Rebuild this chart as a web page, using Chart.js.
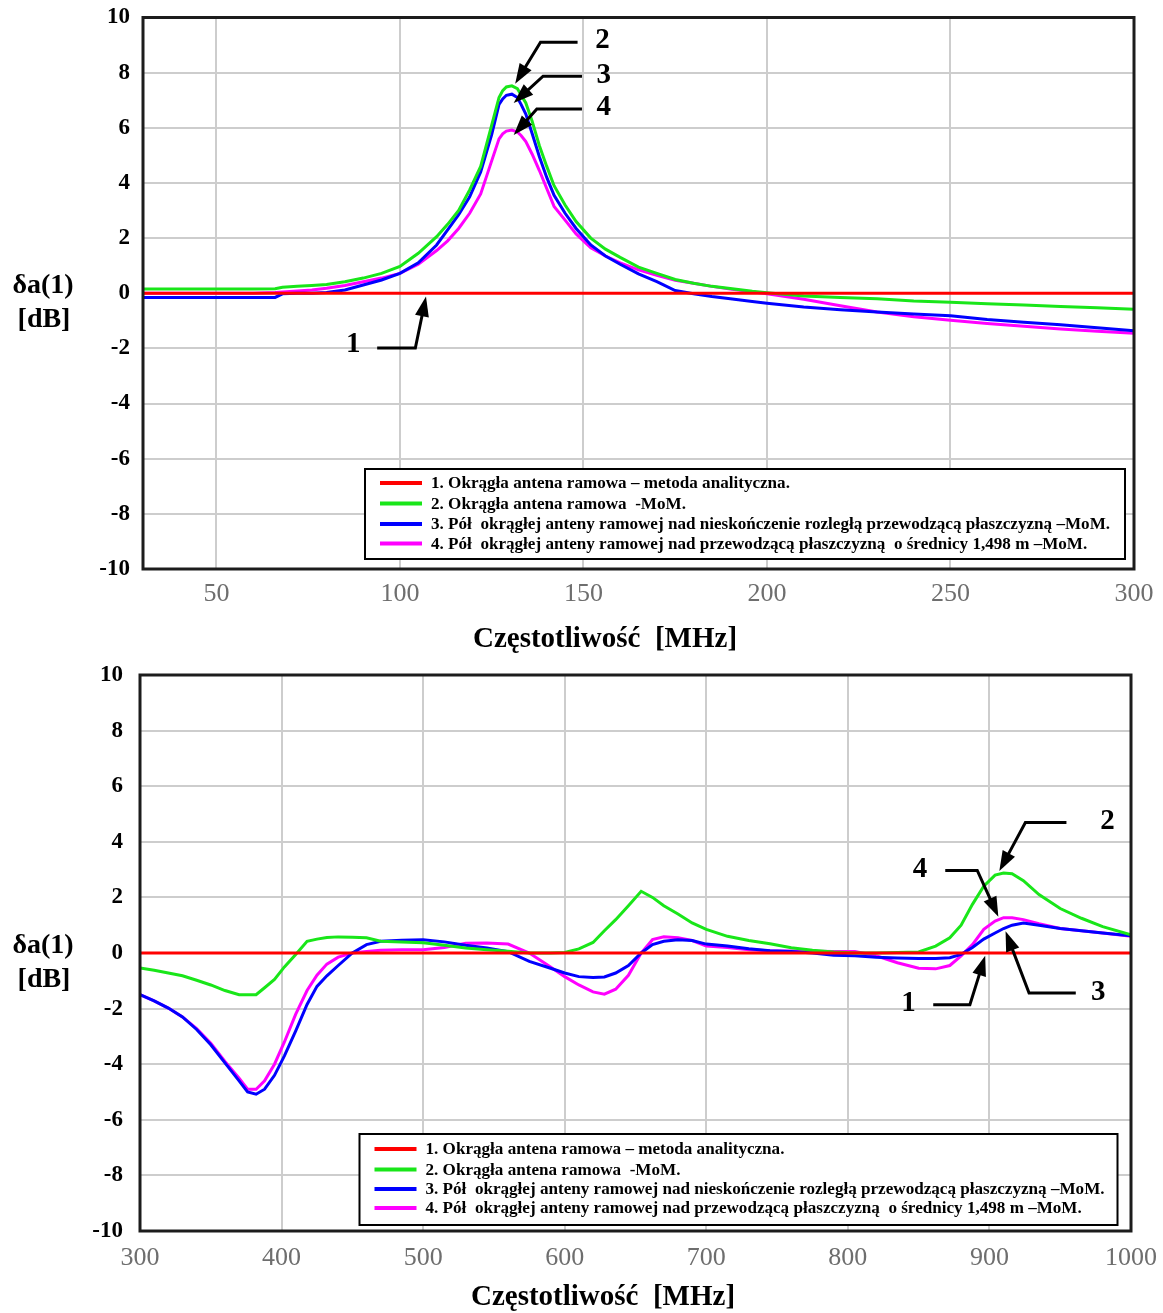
<!DOCTYPE html>
<html>
<head>
<meta charset="utf-8">
<script src="https://cdn.jsdelivr.net/npm/chart.js@4.4.1/dist/chart.umd.min.js"></script>
<style>
  html, body { margin: 0; padding: 0; background: #fff; }
  #wrap { position: relative; width: 1163px; height: 1313px; }
  canvas { position: absolute; left: 0; }
</style>
</head>
<body>
<div id="wrap">
  <canvas id="chartTop" width="1163" height="660" style="top:0"></canvas>
  <canvas id="chartBottom" width="1163" height="653" style="top:660px"></canvas>
</div>
<script>
// ---- data: górny wykres (30-300 MHz) ----
const freqTop = [30, 60, 66, 68, 72, 76, 80, 85, 90, 95, 100, 105, 110, 113, 116, 119, 122, 125, 127, 128, 129,
  130.5, 132, 133, 134.3, 136, 138, 140, 142, 145, 148, 152, 156, 160, 165, 170, 175, 180, 185, 190, 196, 200,
  210, 220, 230, 240, 250, 260, 270, 280, 290, 300];
const analyticFreqTop = [30, 300];
const analyticTop = [0, 0];
const momTop = [0.15, 0.15, 0.16, 0.22, 0.25, 0.28, 0.32, 0.42, 0.55, 0.72, 0.97, 1.45, 2.05, 2.5, 3.0, 3.75, 4.6, 6.1, 7.1, 7.35, 7.48,
  7.52, 7.42, 7.2, 6.9, 6.25, 5.35, 4.6, 3.9, 3.2, 2.6, 2.0, 1.6, 1.3, 0.95, 0.72, 0.5, 0.36, 0.25, 0.17, 0.07, 0.02,
  -0.1, -0.15, -0.2, -0.28, -0.33, -0.38, -0.43, -0.48, -0.53, -0.58];
const halfInfTop = [-0.15, -0.15, -0.15, -0.02, 0.0, 0.0, 0.03, 0.12, 0.3, 0.48, 0.72, 1.1, 1.75, 2.3, 2.85, 3.5, 4.4, 5.75, 6.85, 7.05, 7.18,
  7.22, 7.1, 6.85, 6.5, 5.8, 4.95, 4.2, 3.55, 2.9, 2.35, 1.75, 1.35, 1.05, 0.7, 0.42, 0.1, -0.02, -0.12, -0.2, -0.3, -0.36,
  -0.5, -0.6, -0.68, -0.75, -0.82, -0.95, -1.05, -1.14, -1.25, -1.36];
const halfDiscTop = [0, 0, 0.03, 0.05, 0.08, 0.12, 0.18, 0.28, 0.42, 0.55, 0.72, 1.05, 1.55, 1.9, 2.35, 2.9, 3.6, 4.8, 5.6, 5.78, 5.88,
  5.92, 5.85, 5.72, 5.5, 5.05, 4.45, 3.8, 3.15, 2.65, 2.15, 1.65, 1.35, 1.1, 0.85, 0.65, 0.47, 0.36, 0.25, 0.15, 0.05, -0.02,
  -0.22, -0.45, -0.68, -0.85, -0.98, -1.1, -1.2, -1.3, -1.38, -1.45];
const xTicksTop = [50, 100, 150, 200, 250, 300];

// ---- data: dolny wykres (300-1000 MHz) ----
const freqBottom = [300, 310, 320, 330, 340, 350, 360, 370, 376, 382, 388, 395, 402, 410, 418, 425, 432, 440, 450, 460,
  470, 485, 500, 515, 530, 545, 560, 575, 590, 600, 610, 620, 628, 636, 645, 654, 662, 670, 680, 690,
  700, 715, 730, 745, 760, 775, 790, 805, 820, 835, 850, 862, 872, 880, 888, 896, 904, 910, 916, 924,
  935, 950, 965, 980, 1000];
const analyticFreqBottom = [300, 1000];
const analyticBottom = [0, 0];
const momBottom = [-0.54, -0.62, -0.72, -0.82, -0.98, -1.15, -1.35, -1.5, -1.5, -1.5, -1.25, -0.95, -0.5, -0.05, 0.42, 0.5, 0.56, 0.58, 0.57, 0.55,
  0.42, 0.4, 0.37, 0.28, 0.18, 0.12, 0.06, 0.0, 0.0, 0.02, 0.15, 0.38, 0.8, 1.2, 1.7, 2.22, 2.0, 1.7, 1.4, 1.08,
  0.85, 0.6, 0.45, 0.33, 0.19, 0.1, 0.04, 0.0, 0.0, 0.02, 0.04, 0.25, 0.55, 1.0, 1.75, 2.4, 2.8, 2.88, 2.85, 2.6,
  2.1, 1.6, 1.25, 0.95, 0.65];
const halfInfBottom = [-1.5, -1.72, -1.98, -2.3, -2.75, -3.3, -3.95, -4.6, -5.0, -5.08, -4.9, -4.4, -3.7, -2.8, -1.85, -1.2, -0.82, -0.45, 0.0, 0.3,
  0.42, 0.46, 0.48, 0.4, 0.28, 0.18, 0.05, -0.3, -0.55, -0.72, -0.85, -0.88, -0.86, -0.72, -0.45, 0.0, 0.3, 0.42, 0.48, 0.45,
  0.32, 0.25, 0.15, 0.08, 0.05, 0.0, -0.08, -0.1, -0.15, -0.18, -0.2, -0.2, -0.17, -0.05, 0.2, 0.5, 0.72, 0.88, 1.0, 1.08,
  1.0, 0.88, 0.8, 0.72, 0.62];
const halfDiscBottom = [-1.5, -1.72, -1.98, -2.3, -2.72, -3.25, -3.9, -4.5, -4.9, -4.9, -4.6, -4.0, -3.2, -2.2, -1.35, -0.8, -0.4, -0.15, 0.0, 0.05,
  0.1, 0.12, 0.12, 0.2, 0.35, 0.36, 0.32, 0.0, -0.5, -0.85, -1.15, -1.4, -1.48, -1.3, -0.8, 0.0, 0.48, 0.58, 0.55, 0.45,
  0.25, 0.2, 0.12, 0.08, 0.07, 0.06, 0.05, 0.05, -0.1, -0.35, -0.55, -0.57, -0.45, -0.1, 0.3, 0.85, 1.15, 1.27, 1.27, 1.2,
  1.05, 0.88, 0.8, 0.72, 0.6];
const xTicksBottom = [300, 400, 500, 600, 700, 800, 900, 1000];

const legendLabels = [
  '1. Okrągła antena ramowa – metoda analityczna.',
  '2. Okrągła antena ramowa  -MoM.',
  '3. Pół  okrągłej anteny ramowej nad nieskończenie rozległą przewodzącą płaszczyzną –MoM.',
  '4. Pół  okrągłej anteny ramowej nad przewodzącą płaszczyzną  o średnicy 1,498 m –MoM.'
];
const yTitle = ['δa(1)', '[dB]'];
const xTitle = 'Częstotliwość  [MHz]';

// ---- rysowanie ----
const SERIF = '"Liberation Serif", "Times New Roman", serif';
const kolory = ['#ff0000', '#19e619', '#0000ff', '#ff00ff'];

const toPoints = (xs, ys) => xs.map((x, i) => ({ x, y: ys[i] }));

function grotStrzalki(ctx, x0, y0, x1, y1) {
  const a = Math.atan2(y1 - y0, x1 - x0), len = 20, half = 7;
  const bx = x1 - len * Math.cos(a), by = y1 - len * Math.sin(a);
  ctx.beginPath();
  ctx.moveTo(x1, y1);
  ctx.lineTo(bx + half * Math.sin(a), by - half * Math.cos(a));
  ctx.lineTo(bx - half * Math.sin(a), by + half * Math.cos(a));
  ctx.closePath();
  ctx.fill();
}

const ramkaPlugin = {
  id: 'ramka',
  afterDraw(chart, args, opts) {
    const ctx = chart.ctx, ca = chart.chartArea;
    const xs = chart.scales.x, ys = chart.scales.y;
    ctx.save();

    // legenda w ramce
    const lg = opts.legend;
    const bx = ca.right - lg.right - lg.width, by = ca.bottom - lg.bottom - lg.height;
    ctx.fillStyle = '#fff';
    ctx.fillRect(bx, by, lg.width, lg.height);
    ctx.strokeStyle = '#000';
    ctx.lineWidth = 2;
    ctx.strokeRect(bx, by, lg.width, lg.height);
    ctx.font = 'bold 17.1px ' + SERIF;
    ctx.textBaseline = 'middle';
    ctx.textAlign = 'left';
    chart.data.datasets.forEach((ds, i) => {
      const ry = by + lg.rows[i];
      ctx.strokeStyle = ds.borderColor;
      ctx.lineWidth = 4;
      ctx.beginPath();
      ctx.moveTo(bx + 15, ry);
      ctx.lineTo(bx + 57, ry);
      ctx.stroke();
      ctx.fillStyle = '#000';
      ctx.fillText(ds.label, bx + 66, ry + 1);
    });

    // strzałki z numerami
    ctx.strokeStyle = '#000';
    ctx.fillStyle = '#000';
    ctx.lineWidth = 3;
    opts.callouts.forEach(c => {
      const p = c.pts.map(([x, y]) => [xs.getPixelForValue(x), ys.getPixelForValue(y)]);
      const n = p.length;
      const a = Math.atan2(p[n - 1][1] - p[n - 2][1], p[n - 1][0] - p[n - 2][0]);
      ctx.beginPath();
      ctx.moveTo(p[0][0], p[0][1]);
      for (let i = 1; i < n - 1; i++) ctx.lineTo(p[i][0], p[i][1]);
      ctx.lineTo(p[n - 1][0] - 14 * Math.cos(a), p[n - 1][1] - 14 * Math.sin(a));
      ctx.stroke();
      grotStrzalki(ctx, p[n - 2][0], p[n - 2][1], p[n - 1][0], p[n - 1][1]);
      ctx.font = 'bold 29px ' + SERIF;
      ctx.textAlign = 'center';
      ctx.textBaseline = 'middle';
      ctx.fillText(c.label, xs.getPixelForValue(c.at[0]), ys.getPixelForValue(c.at[1]));
    });

    // obramowanie obszaru wykresu
    ctx.strokeStyle = '#1c1c1c';
    ctx.lineWidth = 3;
    ctx.strokeRect(ca.left, ca.top, ca.right - ca.left, ca.bottom - ca.top);

    // opisy osi
    ctx.fillStyle = '#000';
    ctx.textAlign = 'center';
    ctx.textBaseline = 'middle';
    ctx.font = 'bold 28px ' + SERIF;
    const y0 = ys.getPixelForValue(0);
    ctx.fillText(yTitle[0], 43, y0 - 7);
    ctx.fillText(yTitle[1], 44, y0 + 27);
    ctx.font = 'bold 29px ' + SERIF;
    ctx.fillText(xTitle, opts.xTitleX, opts.xTitleY);
    ctx.restore();
  }
};

function budujWykres(canvasId, cfg) {
  const zestawy = [
    [cfg.analyticFreq, cfg.analytic],
    [cfg.freq, cfg.mom],
    [cfg.freq, cfg.halfInf],
    [cfg.freq, cfg.halfDisc]
  ];
  return new Chart(document.getElementById(canvasId), {
    type: 'line',
    data: {
      datasets: zestawy.map(([xs, ys], i) => ({
        label: legendLabels[i],
        data: toPoints(xs, ys),
        borderColor: kolory[i],
        borderWidth: 3,
        pointRadius: 0,
        tension: 0
      }))
    },
    options: {
      responsive: false,
      animation: false,
      layout: { padding: cfg.padding },
      plugins: {
        legend: { display: false },
        tooltip: { enabled: false },
        ramka: cfg.ramka
      },
      scales: {
        x: {
          type: 'linear',
          min: cfg.xMin,
          max: cfg.xMax,
          afterBuildTicks: s => { s.ticks = cfg.xTicks.map(v => ({ value: v })); },
          afterFit: s => { s.height = cfg.xAxisHeight; s.paddingLeft = 0; s.paddingRight = 0; },
          grid: { color: '#cdcdcd', lineWidth: 2, drawTicks: false },
          border: { display: false },
          ticks: {
            color: '#6e6e6e',
            font: { family: SERIF, size: 26 },
            padding: cfg.xTickPad,
            maxRotation: 0,
            autoSkip: false,
            callback: v => String(v)
          }
        },
        y: {
          min: -10,
          max: 10,
          afterFit: s => { s.width = cfg.yAxisWidth; s.paddingTop = 0; s.paddingBottom = 0; },
          grid: { color: '#cdcdcd', lineWidth: 2, drawTicks: false },
          border: { display: false },
          ticks: {
            stepSize: 2,
            color: '#000',
            font: { family: SERIF, size: 23, weight: 'bold' },
            padding: cfg.yTickPad
          }
        }
      }
    },
    plugins: [ramkaPlugin]
  });
}

budujWykres('chartTop', {
  freq: freqTop, analyticFreq: analyticFreqTop, analytic: analyticTop,
  mom: momTop, halfInf: halfInfTop, halfDisc: halfDiscTop,
  xMin: 30, xMax: 300, xTicks: xTicksTop,
  padding: { top: 17.5, right: 29, left: 0, bottom: 0 },
  xAxisHeight: 91, yAxisWidth: 143, xTickPad: 10, yTickPad: 13,
  ramka: {
    legend: { right: 9, bottom: 10, width: 760, height: 90, rows: [14, 34.5, 55, 74.5] },
    xTitleX: 605, xTitleY: 640,
    callouts: [
      { label: '1', at: [87.3, -1.87], pts: [[93.8, -1.99], [104.2, -1.99], [107.1, -0.12]] },
      { label: '2', at: [155.2, 9.15], pts: [[148.4, 9.1], [138.3, 9.1], [131.4, 7.6]] },
      { label: '3', at: [155.5, 7.9], pts: [[149.6, 7.87], [139, 7.87], [131, 6.9]] },
      { label: '4', at: [155.5, 6.72], pts: [[149.6, 6.68], [137.3, 6.68], [131, 5.74]] }
    ]
  }
});

budujWykres('chartBottom', {
  freq: freqBottom, analyticFreq: analyticFreqBottom, analytic: analyticBottom,
  mom: momBottom, halfInf: halfInfBottom, halfDisc: halfDiscBottom,
  xMin: 300, xMax: 1000, xTicks: xTicksBottom,
  padding: { top: 15, right: 32, left: 0, bottom: 0 },
  xAxisHeight: 82, yAxisWidth: 140, xTickPad: 12, yTickPad: 17,
  ramka: {
    legend: { right: 13.5, bottom: 6, width: 758, height: 91, rows: [15, 35.5, 55, 74] },
    xTitleX: 603, xTitleY: 638,
    callouts: [
      { label: '1', at: [842.8, -1.8], pts: [[860.3, -1.86], [886.2, -1.86], [897, -0.1]] },
      { label: '2', at: [983.4, 4.72], pts: [[954.4, 4.69], [925.4, 4.69], [907, 2.95]] },
      { label: '3', at: [976.8, -1.42], pts: [[961, -1.44], [928, -1.44], [911.4, 0.78]] },
      { label: '4', at: [851, 3.0], pts: [[868.8, 2.97], [891.4, 2.97], [906.3, 1.3]] }
    ]
  }
});
</script>
</body>
</html>
